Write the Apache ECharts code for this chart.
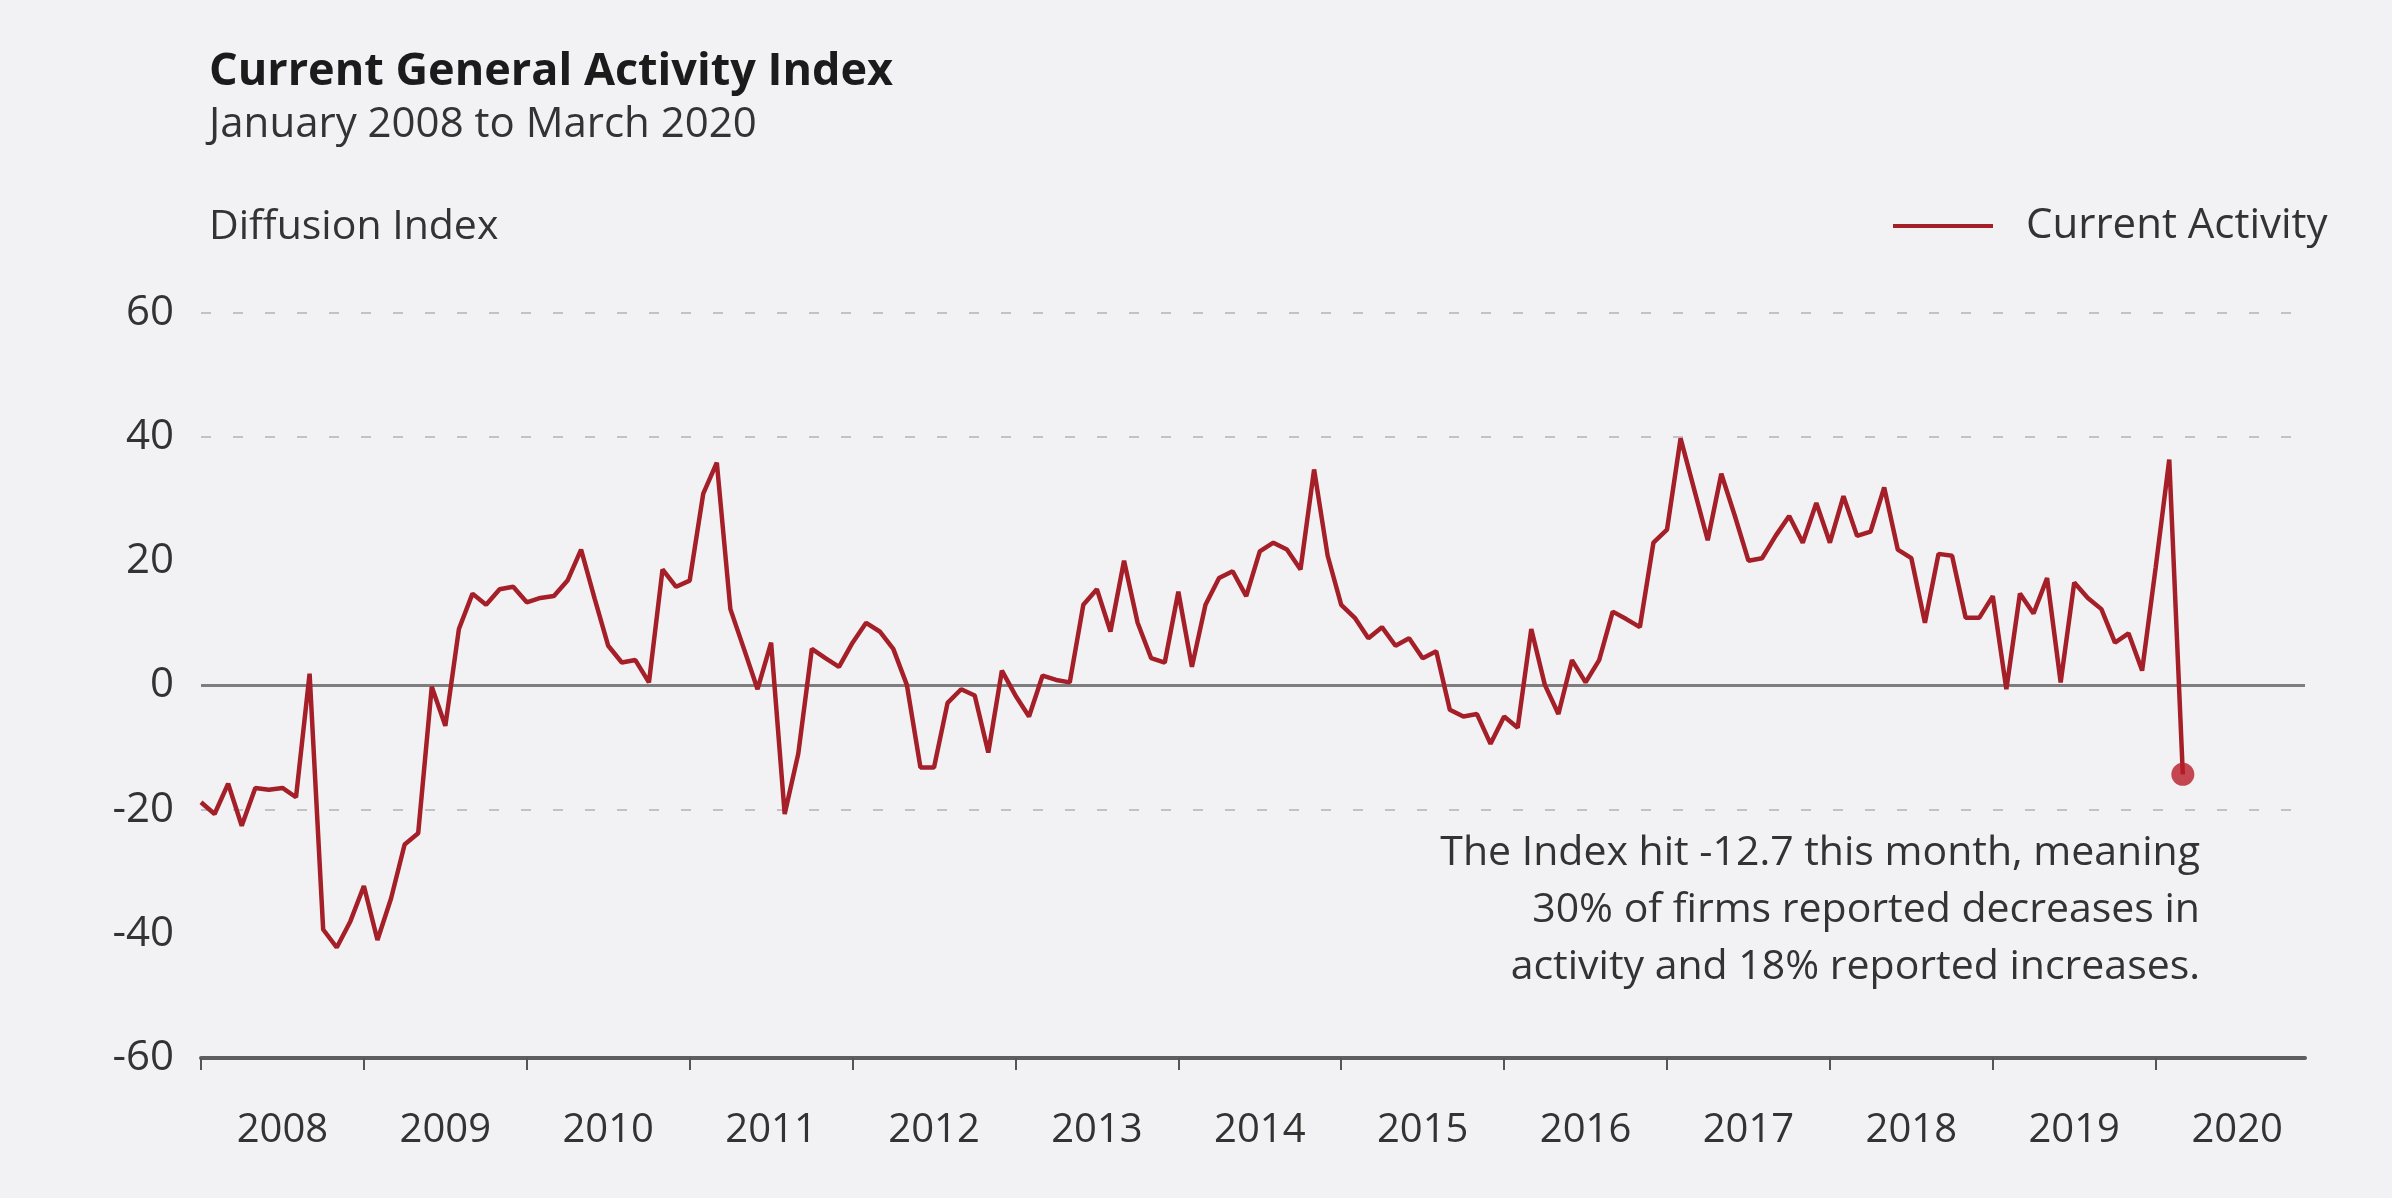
<!DOCTYPE html>
<html>
<head>
<meta charset="utf-8">
<script src="https://cdn.jsdelivr.net/npm/echarts@6/dist/echarts.min.js"></script>
<style>
html,body{margin:0;padding:0;background:#f2f2f4;}
#chart{width:2392px;height:1198px;}
</style>
</head>
<body>
<div id="chart"></div>
<script>
// ---- data ----
const years = ['2008','2009','2010','2011','2012','2013','2014','2015','2016','2017','2018','2019','2020'];
const seriesName = 'Current Activity';
// Monthly index, January 2008 .. March 2020
const activity = [
  -18.8, -20.7, -15.8, -22.6, -16.5, -16.8, -16.5, -18.0, 1.9, -39.3, -42.2, -38.0,
  -32.3, -41.0, -34.3, -25.6, -23.8, -0.2, -6.5, 9.1, 14.8, 13.0, 15.5, 15.9,
  13.4, 14.1, 14.4, 16.9, 21.9, 14.0, 6.4, 3.7, 4.1, 0.5, 18.7, 15.9,
  16.9, 30.9, 35.9, 12.3, 5.9, -0.6, 6.9, -20.7, -11.0, 5.9, 4.4, 3.0,
  6.9, 10.1, 8.7, 5.9, 0.1, -13.2, -13.2, -2.8, -0.6, -1.6, -10.8, 2.4,
  -1.6, -5.0, 1.6, 0.9, 0.5, 13.0, 15.5, 8.7, 20.1, 10.1, 4.4, 3.7,
  15.1, 3.0, 13.0, 17.3, 18.4, 14.4, 21.6, 23.0, 21.9, 18.7, 34.8, 20.9,
  13.0, 10.9, 7.6, 9.4, 6.4, 7.6, 4.4, 5.5, -3.9, -5.0, -4.6, -9.4,
  -5.0, -6.8, 9.1, 0.1, -4.6, 4.1, 0.5, 4.1, 11.9, 10.7, 9.4, 23.0,
  25.1, 39.8, 31.6, 23.4, 34.1, 27.3, 20.1, 20.5, 24.1, 27.3, 23.0, 29.4,
  23.0, 30.5, 24.1, 24.8, 31.9, 21.9, 20.5, 10.1, 21.2, 20.9, 10.9, 10.9,
  14.4, -0.6, 14.8, 11.6, 17.3, 0.5, 16.6, 14.1, 12.3, 6.9, 8.4, 2.4,
  19.0, 36.4, -14.3
];
const yMin = -60, yMax = 60, yStep = 20;
const titleText = 'Current General Activity Index';
const subtitleText = 'January 2008 to March 2020';
const yAxisTitle = 'Diffusion Index';
const annotationLines = [
  'The Index hit -12.7 this month, meaning',
  '30% of firms reported decreases in',
  'activity and 18% reported increases.'
];

// ---- derived ----
const months = [];
years.forEach(y => { for (let m = 1; m <= 12; m++) months.push(y + '-' + String(m).padStart(2, '0')); });
const lastIdx = activity.length - 1;

const FONT = '"Open Sans", "Liberation Sans", sans-serif';
const RED = '#a51f28';

const chart = echarts.init(document.getElementById('chart'), null, {renderer: 'canvas'});
chart.setOption({
  backgroundColor: '#f2f2f4',
  animation: false,
  textStyle: {fontFamily: FONT},
  title: [
    {text: titleText, left: 204, top: 45,
     textStyle: {fontFamily: FONT, fontSize: 45, fontWeight: 'bold', color: '#1b1b1b'}},
    {text: subtitleText, left: 204, top: 99,
     textStyle: {fontFamily: FONT, fontSize: 42, fontWeight: 'normal', color: '#333'}},
    {text: yAxisTitle, left: 204, top: 202,
     textStyle: {fontFamily: FONT, fontSize: 41, fontWeight: 'normal', color: '#333'}}
  ],
  legend: {
    data: [seriesName],
    left: 1888, top: 200,
    icon: 'rect', itemWidth: 100, itemHeight: 4,
    textStyle: {fontFamily: FONT, fontSize: 42, color: '#333', padding: [0, 0, 0, 28]}
  },
  grid: {left: 201, right: 87, top: 313, bottom: 140, containLabel: false},
  xAxis: {
    type: 'category',
    data: months,
    boundaryGap: false,
    axisLine: {onZero: false, lineStyle: {color: '#5e5e5e', width: 4}},
    axisTick: {show: true, interval: (i) => i % 12 === 0, length: 12, lineStyle: {color: '#555', width: 2}},
    axisLabel: {interval: (i) => i % 12 === 6, formatter: (v) => v.slice(0, 4),
                fontFamily: FONT, fontSize: 40, color: '#333', margin: 53},
    splitLine: {show: false}
  },
  yAxis: {
    type: 'value', min: yMin, max: yMax, interval: yStep,
    axisLine: {show: false}, axisTick: {show: false},
    axisLabel: {fontFamily: FONT, fontSize: 42, color: '#333', margin: 27},
    splitLine: {show: true, lineStyle: {
      color: ['transparent', 'transparent', '#c2c2c6', 'transparent', 'transparent', '#c2c2c6', '#c2c2c6'],
      type: [10, 22], width: 2}}
  },
  series: [
    {
      name: seriesName, type: 'line', data: activity,
      showSymbol: false, symbol: 'none', z: 3,
      lineStyle: {color: RED, width: 4.5},
      itemStyle: {color: RED},
      markLine: {
        silent: true, symbol: 'none', z: 1,
        label: {show: false},
        lineStyle: {color: '#7e7e7e', width: 3, type: 'solid'},
        data: [{yAxis: 0}]
      }
    },
    {
      name: 'end', type: 'scatter', z: 4,
      data: [[months[lastIdx], activity[lastIdx]]],
      symbol: 'circle', symbolSize: 23,
      itemStyle: {color: '#b81a28'}
    }
  ],
  graphic: [
    {type: 'text', x: 2200, y: 825, z: 10,
     style: {text: annotationLines.join('\n'), font: '41px ' + FONT, fill: '#333',
             textAlign: 'right', textVerticalAlign: 'top', lineHeight: 57}}
  ]
});
</script>
</body>
</html>
